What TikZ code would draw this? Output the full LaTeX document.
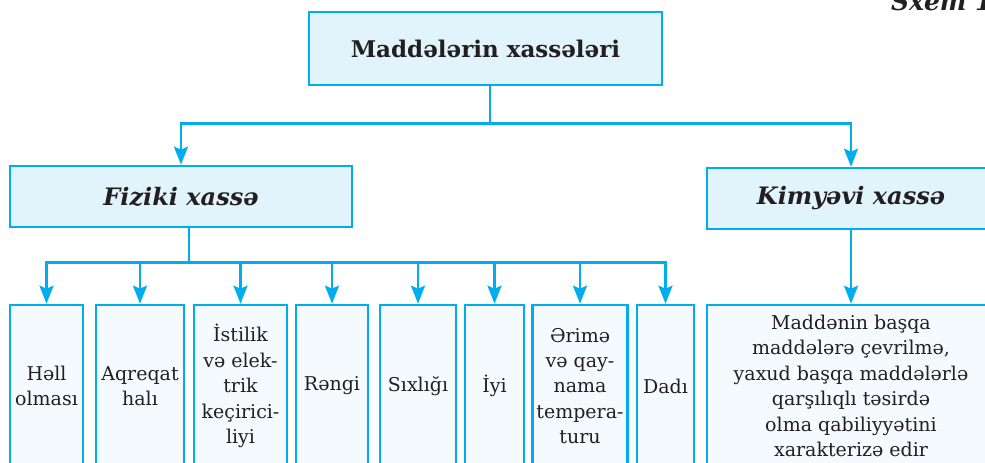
\documentclass[tikz,border=0pt]{standalone}
\usepackage{fontspec}
\setmainfont{DejaVu Serif}
\usetikzlibrary{arrows.meta}

\definecolor{skyline}{HTML}{00AEEF}
\definecolor{headfill}{HTML}{E1F3FB}
\definecolor{propfill}{HTML}{F4FAFD}
\definecolor{inkdark}{HTML}{231F20}

\begin{document}
\begin{tikzpicture}[x=0.5pt,y=-0.5pt,
	box/.style={draw=skyline,line width=1.3pt,fill=headfill,text=inkdark,inner sep=2pt},
	mainbox/.style={box,font=\bfseries\fontsize{11.5}{13}\selectfont},
	typebox/.style={box,font=\bfseries\itshape\fontsize{12}{14}\selectfont},
	propbox/.style={box,fill=propfill,align=center,minimum height=81pt,font=\fontsize{9.5}{12.7}\selectfont},
	wire/.style={draw=skyline,line width=1.3pt},
	arr/.style={wire,-{Stealth[length=9pt,width=7pt,inset=1.5pt]}}]
	\useasboundingbox (0,0) rectangle (985,462);
	\clip (0,0) rectangle (985,462);
	\node[text=inkdark,font=\bfseries\itshape\fontsize{12.5}{14}\selectfont,anchor=base west] (sxem) at (884,10) {Sxem 1};
	\node[mainbox,minimum width=176.5pt,minimum height=36.5pt] (top) at (485.5,48.5) {Maddələrin xassələri};
	\node[typebox,minimum width=171pt,minimum height=30.5pt] (fiz) at (181,196.5) {Fiziki xassə};
	\node[typebox,minimum width=144pt,minimum height=30.5pt] (kim) at (851,198.5) {Kimyəvi xassə};
	% fiziki xassələr
	\node[propbox,minimum width=36.5pt] (hell) at (46.5,386) {Həll\\olması};
	\node[propbox,minimum width=44pt] (aqreqat) at (140,386) {Aqreqat\\halı};
	\node[propbox,minimum width=46.5pt] (istilik) at (240.5,386) {İstilik\\və elek-\\trik\\keçirici-\\liyi};
	\node[propbox,minimum width=36pt] (rengi) at (332,386) {Rəngi};
	\node[propbox,minimum width=38pt] (sixligi) at (418,386) {Sıxlığı};
	\node[propbox,minimum width=29.5pt] (iyi) at (494.5,386) {İyi};
	\node[propbox,minimum width=47pt] (erime) at (580,386) {Ərimə\\və qay-\\nama\\tempera-\\turu};
	\node[propbox,minimum width=28.5pt] (dadi) at (665.5,386) {Dadı};
	% kimyəvi xassə
	\node[propbox,minimum width=144pt] (chem) at (851,386) {Maddənin başqa\\maddələrə çevrilmə,\\yaxud başqa maddələrlə\\qarşılıqlı təsirdə\\olma qabiliyyətini\\xarakterizə edir};
	\draw[arr] ([xshift=2.25pt]top.south) -- ++(0,37) -| (fiz.north);
	\draw[arr] ([xshift=2.25pt]top.south) -- ++(0,37) -| (kim.north);
	\draw[wire] ([xshift=4pt]fiz.south) -- ++(0,34) coordinate (bus);
	\foreach \n in {hell,aqreqat,istilik,rengi,sixligi,iyi,erime,dadi}
		\draw[arr] (bus) -| (\n.north);
	\draw[arr] (kim) -- (chem);
\end{tikzpicture}
\end{document}
